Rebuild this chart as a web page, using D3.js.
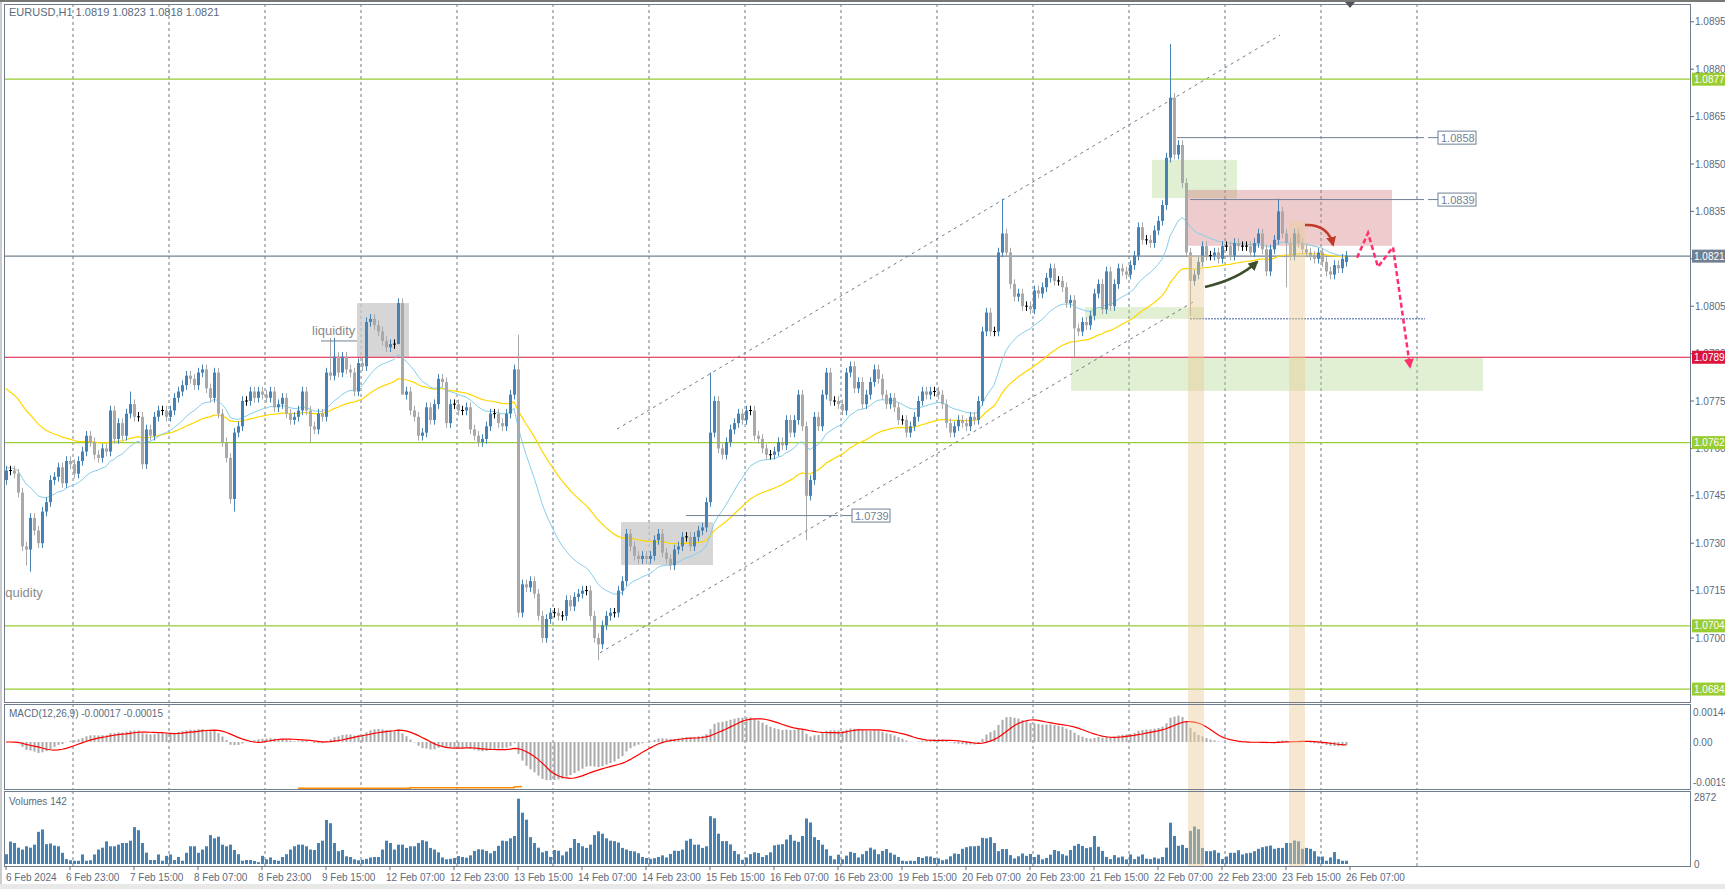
<!DOCTYPE html>
<html><head><meta charset="utf-8">
<script src="https://cdn.jsdelivr.net/npm/d3@7"></script>
<style>body{margin:0;background:#fff}svg{display:block}text{font-family:"Liberation Sans",Arial,sans-serif}</style>
</head><body><svg id="c" width="1725" height="889"></svg>
<script>
// ---------------- DATA ----------------
const closes = [
// 6 Feb 07-23
1.0753,1.0753,1.0752,1.0746,1.0729,1.0728,1.0738,1.0734,1.0730,1.0740,1.0743,1.0750,1.0751,1.0754,1.0749,1.0756,1.0755,
// 7 Feb
1.0752,1.0756,1.0759,1.0764,1.0762,1.0758,1.0757,1.0760,1.0759,1.0772,1.0763,1.0768,1.0764,1.0771,1.0774,1.0770,1.0770,1.0755,1.0766,1.0764,1.0770,1.0772,1.0772,1.0770,
// 8 Feb
1.0772,1.0776,1.0778,1.0780,1.0783,1.0782,1.0780,1.0784,1.0785,1.0779,1.0776,1.0784,1.0771,1.0762,1.0757,1.0744,1.0765,1.0767,1.0775,1.0775,1.0778,1.0776,1.0778,1.0777,
// 9 Feb
1.0776,1.0778,1.0773,1.0774,1.0776,1.0771,1.0769,1.0770,1.0772,1.0778,1.0772,1.0767,1.0766,1.0771,1.0770,1.0784,1.0783,1.0789,1.0784,1.0789,1.0785,1.0784,1.0778,1.0787,
// 12 Feb
1.0786,1.0800,1.0801,1.0799,1.0797,1.0794,1.0792,1.0793,1.0793,1.0806,1.0777,1.0778,1.0772,1.0770,1.0764,1.0765,1.0773,1.0769,1.0774,1.0782,1.0781,1.0768,1.0774,1.0774,
// 13 Feb
1.0772,1.0772,1.0773,1.0766,1.0764,1.0762,1.0763,1.0767,1.0771,1.0771,1.0768,1.0767,1.0771,1.0777,1.0785,1.0708,1.0717,1.0716,1.0718,1.0714,1.0707,1.0700,1.0706,1.0708,
// 14 Feb
1.0708,1.0707,1.0707,1.0712,1.0710,1.0713,1.0714,1.0715,1.0715,1.0707,1.0700,1.0698,1.0704,1.0707,1.0708,1.0708,1.0715,1.0718,1.0733,1.0729,1.0726,1.0725,1.0726,1.0725,
// 15 Feb
1.0726,1.0731,1.0733,1.0727,1.0725,1.0723,1.0728,1.0729,1.0732,1.0732,1.0729,1.0732,1.0734,1.0735,1.0743,1.0765,1.0775,1.0760,1.0758,1.0762,1.0766,1.0768,1.0771,1.0769,
// 16 Feb
1.0772,1.0772,1.0764,1.0763,1.0760,1.0758,1.0758,1.0759,1.0762,1.0761,1.0769,1.0765,1.0769,1.0777,1.0767,1.0745,1.0750,1.0770,1.0767,1.0777,1.0784,1.0775,1.0775,1.0774,
// 19 Feb
1.0772,1.0784,1.0786,1.0779,1.0781,1.0774,1.0777,1.0781,1.0785,1.0782,1.0777,1.0774,1.0776,1.0773,1.0769,1.0769,1.0765,1.0767,1.0770,1.0775,1.0778,1.0777,1.0778,1.0778,
// 20 Feb
1.0777,1.0774,1.0768,1.0765,1.0767,1.0769,1.0768,1.0767,1.0770,1.0769,1.0775,1.0797,1.0803,1.0797,1.0797,1.0822,1.0828,1.0822,1.0812,1.0808,1.0809,1.0805,1.0805,1.0804,
// 21 Feb
1.0810,1.0809,1.0811,1.0814,1.0817,1.0813,1.0813,1.0811,1.0806,1.0807,1.0798,1.0797,1.0800,1.0799,1.0802,1.0809,1.0812,1.0804,1.0816,1.0805,1.0812,1.0817,1.0816,1.0815,
// 22 Feb
1.0818,1.0821,1.0830,1.0826,1.0826,1.0825,1.0829,1.0832,1.0837,1.0852,1.0871,1.0853,1.0856,1.0844,1.0822,1.0813,1.0815,1.0819,1.0824,1.0821,1.0821,1.0822,1.0820,1.0824,
// 23 Feb
1.0824,1.0821,1.0825,1.0824,1.0824,1.0824,1.0822,1.0825,1.0828,1.0823,1.0816,1.0823,1.0826,1.0835,1.0828,1.0825,1.0821,1.0828,1.0825,1.0823,1.0822,1.0821,1.0820,1.0822,
// 26 Feb
1.0819,1.0816,1.0815,1.0818,1.0817,1.0820,1.0821
];
const firstOpen = 1.0750;
const lastOpen = 1.0819;
const highs = {5:1.0723,6:1.0721,31:1.0778,57:1.0740,76:1.0762,81:1.0795,82:1.0795,98:1.0805,99:1.0801,128:1.0796,148:1.0693,176:1.0784,200:1.0731,249:1.0839,267:1.0789,291:1.0888,296:1.0802,318:1.0839,320:1.0811};
const volumes = [
420,960,900,700,620,760,700,830,1380,1480,850,880,790,760,480,210,160,
140,140,410,140,160,410,620,700,970,760,760,830,900,900,1000,1580,1450,900,490,170,170,410,140,350,
410,170,300,140,480,760,760,480,620,760,1240,1100,1170,830,760,830,600,420,140,170,170,130,80,350,
200,280,170,140,300,420,620,760,830,830,760,620,600,900,1000,1890,1750,900,550,600,330,300,200,160,
180,220,280,300,300,620,1000,900,620,830,830,690,760,760,900,1020,970,690,620,500,280,200,220,260,
340,300,270,370,560,630,620,560,460,560,780,1000,980,1100,1200,2800,2200,1900,1150,900,700,500,560,300,
600,570,370,530,690,1070,900,760,690,830,1240,1400,1300,1100,1000,980,920,690,620,560,540,460,300,260,
220,250,300,370,280,430,570,560,620,1000,1080,830,830,690,760,2050,1960,1300,980,980,840,560,420,180,
280,420,500,470,300,380,500,800,830,850,1050,1250,1000,950,1200,1950,1780,1150,1030,830,630,350,200,400,
200,360,520,470,280,420,560,700,620,420,560,640,480,400,300,140,120,140,130,300,260,330,320,260,
240,160,200,330,450,430,650,720,760,760,780,1120,1100,1150,900,550,640,640,380,240,330,450,350,430,
300,400,200,260,400,600,550,420,360,600,780,860,770,680,720,1200,740,560,300,210,380,280,320,200,
410,210,320,410,230,210,280,230,300,700,1770,1200,780,820,690,1420,1610,1490,690,550,550,590,480,210,
320,480,480,590,410,460,480,550,650,720,760,790,650,690,690,900,900,1010,970,650,690,650,550,320,
320,140,280,510,210,140,140
];
const timeLabels = ["6 Feb 2024","6 Feb 23:00","7 Feb 15:00","8 Feb 07:00","8 Feb 23:00","9 Feb 15:00","12 Feb 07:00","12 Feb 23:00","13 Feb 15:00","14 Feb 07:00","14 Feb 23:00","15 Feb 15:00","16 Feb 07:00","16 Feb 23:00","19 Feb 15:00","20 Feb 07:00","20 Feb 23:00","21 Feb 15:00","22 Feb 07:00","22 Feb 23:00","23 Feb 15:00","26 Feb 07:00"];
const dayStarts = [17,41,65,89,113,137,161,185,209,233,257,281,305,329,353];
const priceTicks = [1.0895,1.0880,1.0865,1.0850,1.0835,1.0820,1.0805,1.0790,1.0775,1.0760,1.0745,1.0730,1.0715,1.0700];
const levels = [{p:1.0877,c:"#9acd32"},{p:1.0762,c:"#9acd32"},{p:1.0704,c:"#9acd32"},{p:1.0684,c:"#9acd32"},{p:1.0789,c:"#dc143c"},{p:1.0821,c:"#708090"}];
const maSeeds = {fast:1.0754, slow:1.0780};
const boxes = [
 {b0:87.75,b1:100.75,p0:1.0806,p1:1.0789,c:"rgba(200,200,200,0.75)"},
 {b0:153.75,b1:176.75,p0:1.07367,p1:1.07231,c:"rgba(200,200,200,0.75)"},
 {b0:286.5,b1:307.75,p0:1.08513,p1:1.08392,c:"rgba(170,210,130,0.35)"},
 {b0:295.5,b1:346.5,p0:1.08418,p1:1.08241,c:"rgba(205,110,115,0.35)"},
 {b0:269.75,b1:299.5,p0:1.08047,p1:1.0801,c:"rgba(170,210,130,0.35)"},
 {b0:266.25,b1:369.25,p0:1.07886,p1:1.07782,c:"rgba(170,210,130,0.35)"}
];
const stripes = [{b0:295.5,b1:299.5,p:1.0821},{b0:320.75,b1:324.75,p:1.0832}];
const channel = [
 [[152.75,1.07661],[318.5,1.08908]],
 [[148.5,1.06953],[296.75,1.08063]]
];
const hLines = [
 {b0:170,b1:208,p:1.07389,label:"1.0739"},
 {b0:292.75,b1:354.5,p:1.08585,label:"1.0858"},
 {b0:296,b1:354.5,p:1.08389,label:"1.0839"}
];
const zigzag = [[337.75,1.08203],[340.5,1.08282],[343,1.08174],[346.75,1.08237],[351,1.07858]];
const macdLow = [[73,-0.00222],[101,-0.00222],[101,-0.0022],[127,-0.0022],[127,-0.00216],[129,-0.00214]];

// ---------------- SETUP ----------------
const svg = d3.select("#c");
const L=4, R=1690;
const main={t:4,b:702}, mp={t:704,b:789}, vp={t:791,b:866};
const x = d3.scaleLinear().domain([0,1]).range([6,10]);
const y = d3.scaleLinear().domain([1.07,1.0895]).range([638,638-0.0195*31600]);
const ym = d3.scaleLinear().domain([0,0.00144]).range([742,712]);
const yv = d3.scaleLinear().domain([0,2872]).range([864,797]);
const axisCol="#5a6b7d";
const FS=10;

svg.append("rect").attr("x",0).attr("y",0).attr("width",1725).attr("height",2).attr("fill","#777");
svg.append("rect").attr("x",0).attr("y",884).attr("width",1725).attr("height",5).attr("fill","#e8e8e8");
const defs=svg.append("defs");
[["cm",main],["cmac",mp],["cv",vp]].forEach(([id,p])=>defs.append("clipPath").attr("id",id).append("rect").attr("x",L).attr("y",p.t).attr("width",R-L).attr("height",p.b-p.t));
function marker(id,col){defs.append("marker").attr("id",id).attr("viewBox","0 0 10 10").attr("refX",8).attr("refY",5).attr("markerWidth",4).attr("markerHeight",4).attr("orient","auto").append("path").attr("d","M0,0L10,5L0,10z").attr("fill",col);}
marker("mk","#3d4f2a");marker("mr","#c0392b");marker("mp","#ff2f6d");

const gm=svg.append("g").attr("clip-path","url(#cm)");
[[gm,main],[svg.append("g").attr("clip-path","url(#cmac)"),mp],[svg.append("g").attr("clip-path","url(#cv)"),vp]].forEach(([g,p])=>{
 dayStarts.forEach(d=>g.append("line").attr("x1",x(d)-1).attr("x2",x(d)-1).attr("y1",p.t).attr("y2",p.b).attr("stroke","#6f7b88").attr("stroke-dasharray","3,3"));
});
boxes.forEach(b=>gm.append("rect").attr("x",x(b.b0)).attr("width",x(b.b1)-x(b.b0)).attr("y",y(b.p0)).attr("height",y(b.p1)-y(b.p0)).attr("fill",b.c));
levels.forEach(l=>gm.append("line").attr("x1",L).attr("x2",R).attr("y1",y(l.p)+0.5).attr("y2",y(l.p)+0.5).attr("stroke",l.c).attr("stroke-width",1.2));
channel.forEach(s=>gm.append("line").attr("x1",x(s[0][0])).attr("y1",y(s[0][1])).attr("x2",x(s[1][0])).attr("y2",y(s[1][1])).attr("stroke","#6f7b88").attr("stroke-dasharray","3,4"));
const N=closes.length;
function ema(per,seed){const k=2/(per+1);let v=seed;return closes.map(c=>v=v+k*(c-v));}
const fast=ema(21,maSeeds.fast), slow=ema(50,maSeeds.slow);
const ln=d3.line().x((d,i)=>x(i)).y(d=>y(d));
gm.append("path").attr("d",ln(slow)).attr("fill","none").attr("stroke","#ffd700").attr("stroke-width",1.2);
gm.append("path").attr("d",ln(fast)).attr("fill","none").attr("stroke","#87ceeb").attr("stroke-width",1);
closes.forEach((c,i)=>{
 const o = i==N-1?lastOpen:(i?closes[i-1]:firstOpen);
 let hi=Math.max(o,c)+0.00015, lo=Math.min(o,c)-0.00015;
 if(highs[i]!==undefined){const h=highs[i]; if(h>Math.max(o,c)) hi=h; else lo=h;}
 const doji=Math.abs(o-c)<0.00005;
 const col=doji?"#000":(c>o?"#4682b4":"#a9a9a9");
 const xc=x(i);
 gm.append("line").attr("x1",xc+0.5).attr("x2",xc+0.5).attr("y1",y(hi)).attr("y2",y(lo)).attr("stroke",col);
 if(doji) gm.append("line").attr("x1",xc-1).attr("x2",xc+2).attr("y1",y(c)).attr("y2",y(c)).attr("stroke","#000");
 else gm.append("rect").attr("x",xc-1).attr("width",3).attr("y",y(Math.max(o,c))).attr("height",Math.max(1,y(Math.min(o,c))-y(Math.max(o,c)))).attr("fill",col);
});
hLines.forEach(h=>{
 gm.append("line").attr("x1",x(h.b0)).attr("x2",x(h.b1)).attr("y1",y(h.p)+0.5).attr("y2",y(h.p)+0.5).attr("stroke","#6f7f96");
 const lx=x(h.b1)+14;
 gm.append("line").attr("x1",x(h.b1)+4).attr("x2",lx).attr("y1",y(h.p)+0.5).attr("y2",y(h.p)+0.5).attr("stroke","#6f7f96");
 gm.append("rect").attr("x",lx).attr("y",y(h.p)-6).attr("width",38).attr("height",13).attr("fill","#fff").attr("stroke","#6f7f96");
 gm.append("text").attr("x",lx+3).attr("y",y(h.p)+4.5).attr("font-size",11).attr("fill","#6f7f96").text(h.label);
});
gm.append("line").attr("x1",x(78.75)).attr("x2",x(87.75)).attr("y1",y(1.0794)).attr("y2",y(1.0794)).attr("stroke","#6f7f96");
gm.append("text").attr("x",x(76.5)).attr("y",y(1.0796)).attr("font-size",13).attr("fill","#8a8a8a").text("liquidity");
gm.append("text").attr("x",x(9.2)).attr("y",y(1.0722)+29).attr("text-anchor","end").attr("font-size",13).attr("fill","#8a8a8a").text("liquidity");
gm.append("line").attr("x1",x(296)).attr("x2",x(354.75)).attr("y1",y(1.0801)).attr("y2",y(1.0801)).attr("stroke","#3b5ba0").attr("stroke-dasharray","2,1");
gm.append("path").attr("d",`M${x(299.75)},${y(1.08111)} Q${x(308)},${y(1.08135)} ${x(312.75)},${y(1.0819)}`).attr("fill","none").attr("stroke","#3d4f2a").attr("stroke-width",2.5).attr("marker-end","url(#mk)");
gm.append("path").attr("d",`M${x(324.75)},${y(1.08307)} Q${x(330.5)},${y(1.0831)} ${x(331.75)},${y(1.08244)}`).attr("fill","none").attr("stroke","#c0392b").attr("stroke-width",2.5).attr("marker-end","url(#mr)");
gm.append("path").attr("d",d3.line().x(d=>x(d[0])).y(d=>y(d[1]))(zigzag)).attr("fill","none").attr("stroke","#ff2f6d").attr("stroke-width",2.5).attr("stroke-dasharray","5,3").attr("marker-end","url(#mp)");

const gmac=svg.append("g").attr("clip-path","url(#cmac)");
const e12=ema(12,closes[0]),e26=ema(26,closes[0]);
const macd=e12.map((v,i)=>v-e26[i]);
const sig=macd.map((v,i)=>d3.mean(macd.slice(Math.max(0,i-8),i+1)));
macd.forEach((v,i)=>gmac.append("rect").attr("x",x(i)-0.5).attr("width",2).attr("y",Math.min(ym(v),ym(0))).attr("height",Math.abs(ym(v)-ym(0))).attr("fill","#a9a9a9"));
gmac.append("path").attr("d",d3.line().x((d,i)=>x(i)).y(d=>ym(d))(sig)).attr("fill","none").attr("stroke","#ff0000").attr("stroke-width",1.2);
gmac.append("path").attr("d",d3.line().x(d=>x(d[0])).y(d=>ym(d[1]))(macdLow)).attr("fill","none").attr("stroke","#ff8c00").attr("stroke-width",1.5);
const gv=svg.append("g").attr("clip-path","url(#cv)");
volumes.forEach((v,i)=>gv.append("rect").attr("x",x(i)-1).attr("width",3).attr("y",yv(v)).attr("height",yv(0)-yv(v)).attr("fill","#4682b4"));
stripes.forEach(s=>svg.append("rect").attr("x",x(s.b0)).attr("width",x(s.b1)-x(s.b0)).attr("y",y(s.p)).attr("height",vp.b-y(s.p)).attr("fill","rgba(235,205,150,0.45)"));

[main,mp,vp].forEach(p=>svg.append("rect").attr("x",L+0.5).attr("y",p.t+0.5).attr("width",R-L).attr("height",p.b-p.t).attr("fill","none").attr("stroke","#6f7d8c"));
svg.append("line").attr("x1",1).attr("x2",1).attr("y1",2).attr("y2",884).attr("stroke","#999");
priceTicks.forEach(t=>{svg.append("line").attr("x1",R).attr("x2",R+4).attr("y1",y(t)).attr("y2",y(t)).attr("stroke",axisCol);
 svg.append("text").attr("x",R+5).attr("y",y(t)+3.5).attr("font-size",FS).attr("fill",axisCol).text(t.toFixed(4));});
levels.forEach(l=>{svg.append("rect").attr("x",R+2).attr("y",y(l.p)-6).attr("width",33).attr("height",13).attr("fill",l.c);
 svg.append("text").attr("x",R+4).attr("y",y(l.p)+4).attr("font-size",FS).attr("fill","#fff").text(l.p.toFixed(4));});
[[0.00144,"0.00144"],[0,"0.00"],[-0.0019,"-0.0019"]].forEach(([v,s])=>svg.append("text").attr("x",R+3).attr("y",ym(v)+4).attr("font-size",FS).attr("fill",axisCol).text(s));
[[2872,"2872"],[0,"0"]].forEach(([v,s])=>svg.append("text").attr("x",R+4).attr("y",yv(v)+4).attr("font-size",FS).attr("fill",axisCol).text(s));
timeLabels.forEach((s,k)=>{const xx=x(k*16);
 svg.append("line").attr("x1",xx).attr("x2",xx).attr("y1",vp.b).attr("y2",vp.b+4).attr("stroke",axisCol);
 svg.append("text").attr("x",xx+(k?-4:0)).attr("y",vp.b+15).attr("font-size",FS).attr("fill",axisCol).text(s);});
svg.append("text").attr("x",9).attr("y",16).attr("font-size",11).attr("fill","#5a6b7d").text("EURUSD,H1  1.0819 1.0823 1.0818 1.0821");
svg.append("text").attr("x",9).attr("y",717).attr("font-size",FS).attr("fill","#5a6b7d").text("MACD(12,26,9) -0.00017 -0.00015");
svg.append("text").attr("x",9).attr("y",805).attr("font-size",FS).attr("fill","#5a6b7d").text("Volumes 142");
svg.append("path").attr("d",`M${x(336)-5},2 L${x(336)+5},2 L${x(336)},8 Z`).attr("fill","#555");
</script></body></html>
